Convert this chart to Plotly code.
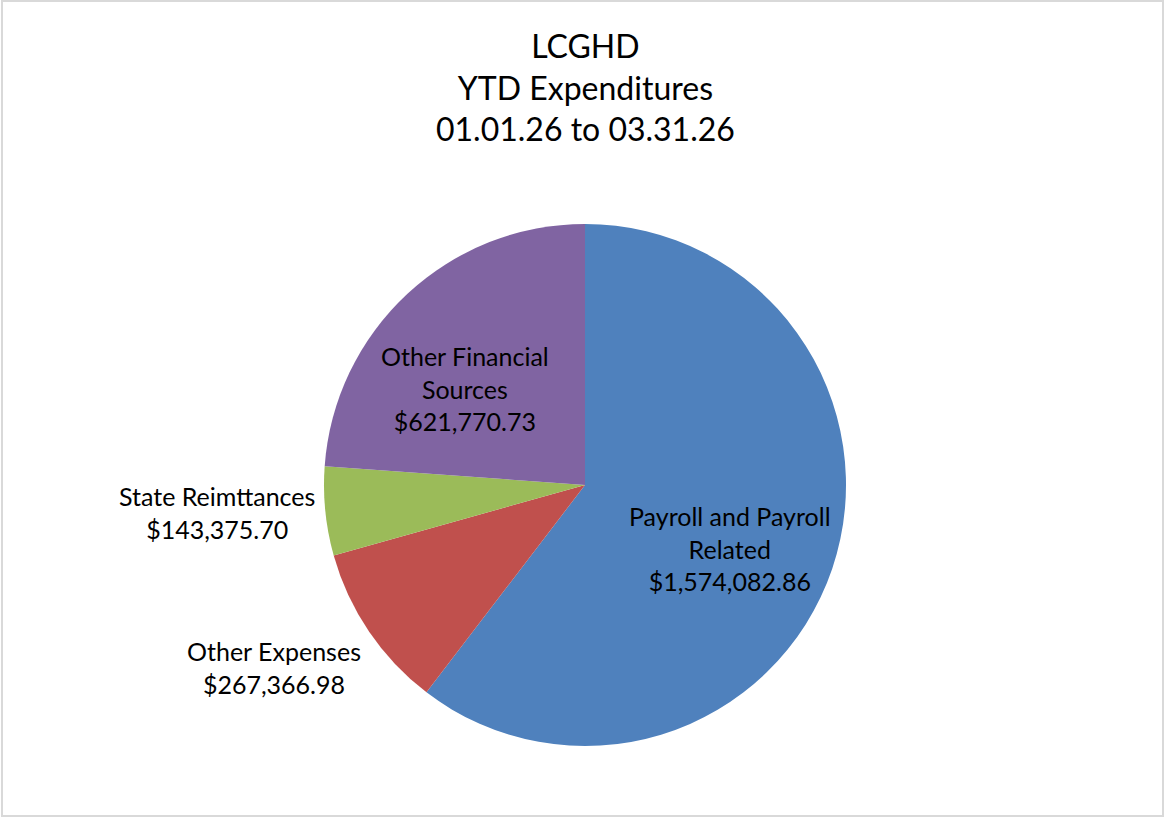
import plotly.graph_objects as go

# ---- data ----
categories = ["Payroll and Payroll Related", "Other Expenses", "State Reimttances", "Other Financial Sources"]
values = [1574082.86, 267366.98, 143375.70, 621770.73]
label_lines = [
    "Payroll and Payroll<br>Related",
    "Other Expenses",
    "State Reimttances",
    "Other Financial<br>Sources",
]
title_lines = ["LCGHD", "YTD Expenditures", "01.01.26 to 03.31.26"]

# ---- style ----
colors = ["#4F81BD", "#C0504D", "#9BBB59", "#8064A2"]
W, H = 1165, 818
CX, CY, R = 585, 485, 261  # pie centre / radius in pixels
# label centre positions (pixels from top-left)
label_pos = [(730, 548), (274, 667), (217, 512), (465, 388)]
FONT = "Lato"

fig = go.Figure(go.Pie(
    labels=categories,
    values=values,
    sort=False,
    direction="clockwise",
    rotation=0,
    marker=dict(colors=colors, line=dict(width=0)),
    textinfo="none",
    showlegend=False,
    domain=dict(x=[(CX - R) / W, (CX + R) / W], y=[(H - CY - R) / H, (H - CY + R) / H]),
))

for txt, val, (px, py) in zip(label_lines, values, label_pos):
    fig.add_annotation(
        text=f"{txt}<br>${val:,.2f}",
        x=px / W, y=1 - py / H, xref="paper", yref="paper",
        xanchor="center", yanchor="middle", showarrow=False,
        font=dict(family=FONT, size=25, color="#000000"),
        align="center",
    )

fig.add_annotation(
    text="<br>".join(title_lines),
    x=585 / W, y=1 - 87 / H, xref="paper", yref="paper",
    xanchor="center", yanchor="middle", showarrow=False,
    font=dict(family=FONT, size=32, color="#000000"),
    align="center",
)

fig.add_shape(type="rect", xref="paper", yref="paper",
              x0=2 / W, x1=1163 / W, y0=1 - 816 / H, y1=1 - 1 / H,
              line=dict(color="#D9D9D9", width=2), fillcolor="rgba(0,0,0,0)")

fig.update_layout(
    width=W, height=H,
    margin=dict(l=0, r=0, t=0, b=0),
    paper_bgcolor="white", plot_bgcolor="white",
    font=dict(family=FONT),
)

fig.write_html("out.html",
               config={"displayModeBar": False},
               post_script="document.body.style.margin='0';document.body.style.padding='0';")
